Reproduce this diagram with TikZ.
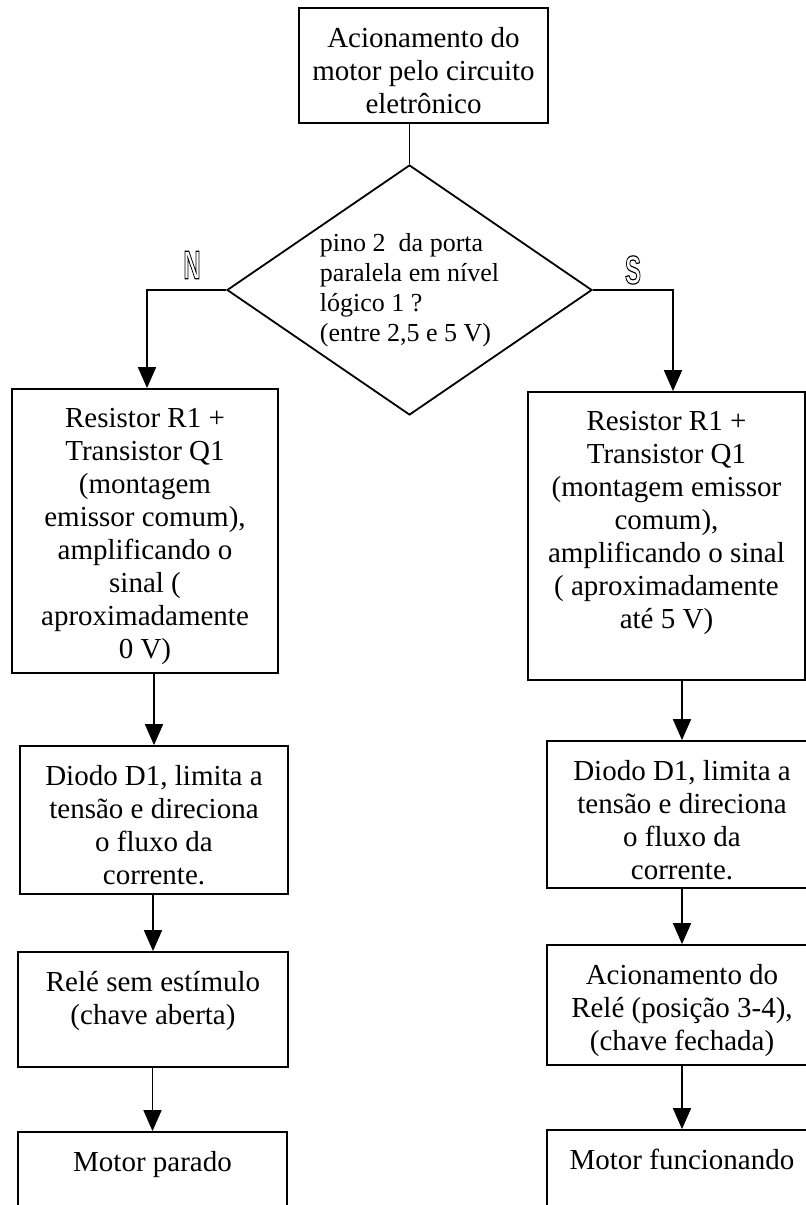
\documentclass[tikz,border=0pt]{standalone}
\usepackage{fontspec}
\setmainfont{Liberation Serif}
\setsansfont{Liberation Sans}
\usetikzlibrary{positioning,shapes.geometric,arrows.meta}
\tikzset{
  cell/.style={draw, line width=1.8pt, inner sep=0pt, font=\fontsize{29}{33}\selectfont},
  decision/.style={draw, diamond, aspect=1.46, line width=1.8pt, inner sep=0pt, minimum width=365pt, minimum height=250pt, align=left, font=\fontsize{26}{30}\selectfont},
  branch/.style={inner sep=0pt, font=\sffamily\bfseries\fontsize{40}{40}\selectfont},
  arrow/.style={-{Triangle[width=18pt,length=21pt]}, line width=1.8pt},
  wire/.style={line width=1.8pt}
}
\newcommand{\celltext}[3]{\parbox[c][#2][t]{#1}{\centering\vspace*{19pt}#3\par}}
\newcommand{\hollow}[1]{\scalebox{.6}[1]{\special{pdf:literal direct 1 Tr 1.2 w}#1\special{pdf:literal direct 0 Tr}}}

\begin{document}
\begin{tikzpicture}[x=1pt, y=-1pt]
  \useasboundingbox (0,0) rectangle (806,1205);

  \node[cell] (start) at (423.5,65.5) {\celltext{249pt}{115pt}{Acionamento do\\motor pelo circuito\\eletrônico}};
  \node[decision] (dec) at (409.5,290) {pino 2\ \ da porta\\paralela em nível\\lógico 1 ?\\(entre 2,5 e 5 V)};

  \node[branch] (nlabel) at (192,265) {\hollow{N}};
  \node[branch] (slabel) at (633,270) {\hollow{S}};

  \node[cell] (nb1) at (145,531) {\celltext{266pt}{284pt}{Resistor R1 +\\Transistor Q1\\(montagem\\emissor comum),\\amplificando o\\sinal (\\aproximadamente\\0 V)}};
  \node[cell] (nb2) at (154,820) {\celltext{268pt}{148pt}{Diodo D1, limita a\\tensão e direciona\\o fluxo da\\corrente.}};
  \node[cell] (nb3) at (153,1009.5) {\celltext{270pt}{115pt}{Relé sem estímulo\\(chave aberta)}};
  \node[cell] (nb4) at (152.5,1182) {\celltext{269pt}{100pt}{Motor parado}};

  \node[cell] (sb1) at (666.5,536) {\celltext{277pt}{288pt}{Resistor R1 +\\Transistor Q1\\(montagem emissor\\comum),\\amplificando o sinal\\( aproximadamente\\até 5 V)}};
  \node[cell] (sb2) at (682,814.5) {\celltext{270pt}{147pt}{Diodo D1, limita a\\tensão e direciona\\o fluxo da\\corrente.}};
  \node[cell] (sb3) at (682,1005) {\celltext{270pt}{120pt}{Acionamento do\\Relé (posição 3-4),\\(chave fechada)}};
  \node[cell] (sb4) at (682,1180) {\celltext{270pt}{100pt}{Motor funcionando}};

  \draw[wire] (dec.north |- start.south) -- (dec.north);
  \draw[arrow] (dec.west) -| ([xshift=2pt]nb1.north);
  \draw[arrow] (dec.east) -| ([xshift=6.5pt]sb1.north);
  \draw[arrow] (nb2.north |- nb1.south) -- (nb2.north);
  \draw[arrow] (nb3.north |- nb2.south) -- (nb3.north);
  \draw[arrow] (nb4.north |- nb3.south) -- (nb4.north);
  \draw[arrow] (sb2.north |- sb1.south) -- (sb2.north);
  \draw[arrow] (sb3.north |- sb2.south) -- (sb3.north);
  \draw[arrow] (sb4.north |- sb3.south) -- (sb4.north);
\end{tikzpicture}
\end{document}
